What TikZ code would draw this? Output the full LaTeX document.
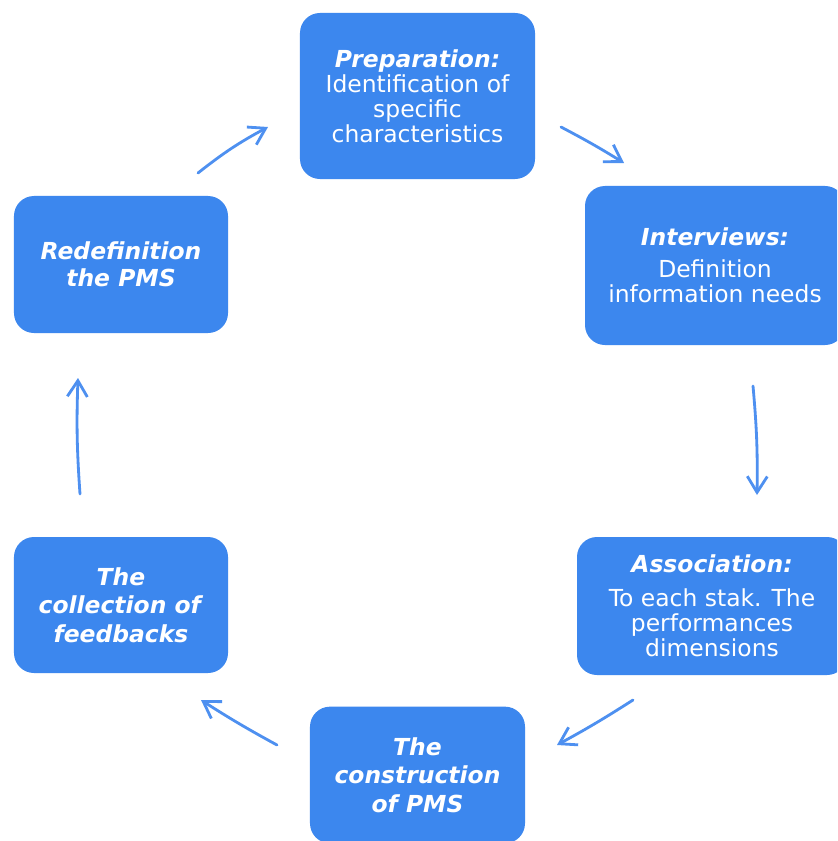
\documentclass[tikz,border=0pt]{standalone}
\usepackage{fontspec}
\setmainfont{DejaVu Sans}
\usetikzlibrary{arrows.meta}
\usepackage{xcolor}
\definecolor{boxblue}{RGB}{60,135,238}
\definecolor{arrowblue}{RGB}{78,144,240}
\tikzset{>={Straight Barb[length=4.8mm,width=6mm]}}
\tikzset{
  stage/.style={draw=none,fill=boxblue,rounded corners=0.6cm,text=white,
    align=center,font=\fontsize{20}{21.3}\selectfont,inner sep=0pt},
  flow/.style={->,draw=arrowblue,line width=2.4pt,line cap=round}
}

\begin{document}
\begin{tikzpicture}[x=0.03cm,y=-0.03cm]
\clip (0,0) rectangle (837,841);
\fill[white] (0,0) rectangle (837,841);
% the six stages, clockwise from the top
\node[stage,minimum width=7.05cm,minimum height=4.98cm] (prep) at (417.5,96)
  {\textbf{\textit{Preparation:}}\\Identification of\\specific\\characteristics};
\node[stage,minimum width=7.8cm,minimum height=4.77cm] (interv) at (715,265.5)
  {\textbf{\textit{Interviews:}}\\[6pt]Definition\\information needs};
\node[stage,minimum width=8.1cm,minimum height=4.14cm] (assoc) at (712,606)
  {\textbf{\textit{Association:}}\\[8pt]To each stak. The\\performances\\dimensions};
\node[stage,minimum width=6.45cm,minimum height=4.1cm] (constr) at (417.5,775)
  {\textbf{\textit{The}}\\[3pt]\textbf{\textit{construction}}\\[3pt]\textbf{\textit{of PMS}}};
\node[stage,minimum width=6.42cm,minimum height=4.08cm] (feedb) at (121,605)
  {\textbf{\textit{The}}\\[3pt]\textbf{\textit{collection of}}\\[3pt]\textbf{\textit{feedbacks}}};
\node[stage,minimum width=6.42cm,minimum height=4.11cm] (redef) at (121,264.5)
  {\textbf{\textit{Redefinition}}\\[2pt]\textbf{\textit{the PMS}}};
% arrow ends between the stages
\coordinate (a1) at (198,173); \coordinate (b1) at (268,127);
\coordinate (a2) at (561,127); \coordinate (b2) at (624,163);
\coordinate (a3) at (753,386); \coordinate (b3) at (757,495);
\coordinate (a4) at (633,700); \coordinate (b4) at (557,745);
\coordinate (a5) at (277,745); \coordinate (b5) at (201,700);
\coordinate (a6) at (80,494);  \coordinate (b6) at (78,378);
\draw[flow] (a1) to[bend left=5] (b1);
\draw[flow] (a2) to[bend left=2] (b2);
\draw[flow] (a3) to[bend left=3] (b3);
\draw[flow] (a4) to[bend left=2] (b4);
\draw[flow] (a5) to[bend left=2] (b5);
\draw[flow] (a6) to[bend left=3] (b6);
\end{tikzpicture}
\end{document}
